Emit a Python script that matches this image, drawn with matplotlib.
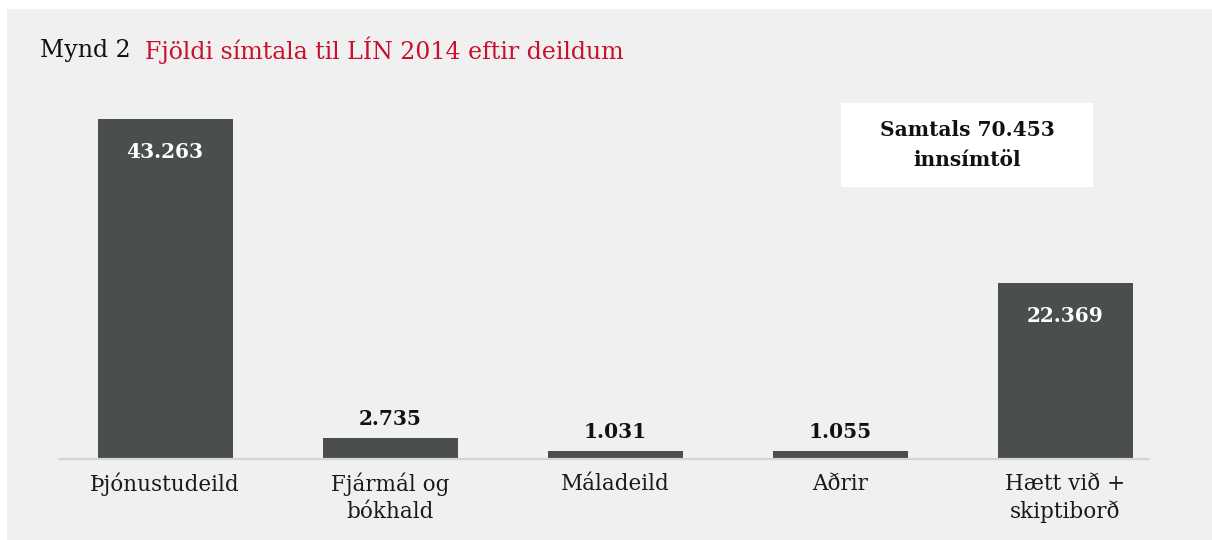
import matplotlib
matplotlib.use('Agg')
import matplotlib.pyplot as plt
from matplotlib.patches import Rectangle

# data
categories = ['Þjónustudeild', 'Fjármál og\nbókhald', 'Máladeild', 'Aðrir', 'Hætt við +\nskiptiborð']
calls = [43263, 2735, 1031, 1055, 22369]
labels = ['43.263', '2.735', '1.031', '1.055', '22.369']
total_text = 'Samtals 70.453\ninnsímtöl'

W, H = 1212, 540
bar_color = '#4a4e4f'
bg = '#f0f0f0'

plt.rcParams['font.family'] = ['DejaVu Serif']

fig = plt.figure(figsize=(W / 100, H / 100), dpi=100, facecolor='white')

# grey panel
fig.patches.append(Rectangle((7 / W, 0), 1 - 7 / W, 1 - 9 / H, transform=fig.transFigure,
                             facecolor=bg, edgecolor='none', zorder=-10))

# axes placed in pixel terms
ax_left, ax_right = 60, 1148
ax_base = 459
px_per_unit = 340 / 43263
ymax = 45000
ax_h = ymax * px_per_unit
ax = fig.add_axes([ax_left / W, (H - ax_base) / H, (ax_right - ax_left) / W, ax_h / H])
ax.set_facecolor('none')
ax.set_zorder(1)

x = list(range(len(calls)))
ax.bar(x, calls, width=0.6, color=bar_color, zorder=2)
ax.set_xlim((60 - 165) / 225, (1148 - 165) / 225)
ax.set_ylim(0, ymax)

for s in ['top', 'right', 'left']:
    ax.spines[s].set_visible(False)
ax.spines['bottom'].set_color('#d4d4d4')
ax.spines['bottom'].set_linewidth(1.6)
ax.set_yticks([])
ax.set_xticks(x)
ax.set_xticklabels(categories, fontsize=15.5, color='#1a1a1a', linespacing=1.3, va='top')
ax.tick_params(axis='x', length=0, pad=10)

for xi, v, lab in zip(x, calls, labels):
    if v > 10000:
        ax.annotate(lab, (xi, v), xytext=(0, -33), textcoords='offset pixels',
                    ha='center', va='center', color='white', fontsize=14.5, fontweight='bold')
    else:
        ax.annotate(lab, (xi, v), xytext=(0, 19), textcoords='offset pixels',
                    ha='center', va='center', color='#111111', fontsize=14.5, fontweight='bold')

# total box
fig.patches.append(Rectangle((841 / W, 1 - 187 / H), (1093 - 841) / W, (187 - 103) / H,
                             transform=fig.transFigure, facecolor='white', edgecolor='none', zorder=-5))
fig.text(967 / W, 1 - 145 / H, total_text, ha='center', va='center', fontsize=14.5,
         fontweight='bold', color='#111111', linespacing=1.6)

# title
fig.text(40 / W, 1 - 50 / H, 'Mynd 2', ha='left', va='center', fontsize=17, color='#111111')
fig.text(145 / W, 1 - 50 / H, 'Fjöldi símtala til LÍN 2014 eftir deildum', ha='left', va='center',
         fontsize=17, color='#c8102e')

fig.savefig('out.png', dpi=100, facecolor=fig.get_facecolor())
